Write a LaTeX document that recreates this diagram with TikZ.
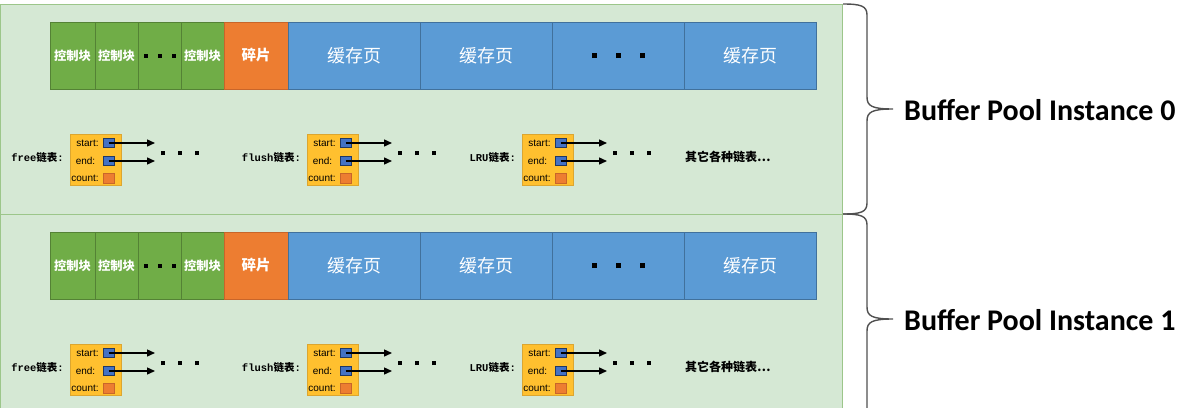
\documentclass[tikz,border=0pt]{standalone}
\usepackage{fontspec}
\setmainfont{Liberation Sans}
\newfontfamily\cjkfont{Noto Sans CJK SC}
\newfontfamily\monofont{Liberation Mono}
\newfontfamily\titlefont{Carlito}
\usepackage{tikz}
\usepackage{xcolor}
\usetikzlibrary{arrows.meta,positioning}
\definecolor{Pool_Back}{HTML}{D5E8D4}
\definecolor{Pool_Edge}{HTML}{9CC68A}
\definecolor{Ctrl_Green}{HTML}{70AD47}
\definecolor{Ctrl_Edge}{HTML}{548235}
\definecolor{Frag_Orange}{HTML}{ED7D31}
\definecolor{Frag_Edge}{HTML}{C8652A}
\definecolor{Page_Blue}{HTML}{5B9BD5}
\definecolor{Page_Edge}{HTML}{41719C}
\definecolor{Node_Gold}{HTML}{FFC02F}
\definecolor{Node_Edge}{HTML}{DCA630}
\definecolor{Ptr_Blue}{HTML}{4472C4}
\definecolor{Ptr_Edge}{HTML}{203864}
\definecolor{Brace_Gray}{HTML}{505050}
\newcommand{\tridots}[2]{\rule{#1}{#1}\hspace{#2}\rule{#1}{#1}\hspace{#2}\rule{#1}{#1}}

\begin{document}
\begin{tikzpicture}[x=1pt, y=-1pt,
    pool/.style={draw=Pool_Edge, fill=Pool_Back, line width=1pt, outer sep=0pt, minimum width=842pt, minimum height=210pt, anchor=north west},
    cell/.style={draw, line width=0.8pt, outer sep=0pt, inner sep=0pt, minimum height=67pt, text=white},
    ctrl/.style={cell, fill=Ctrl_Green, draw=Ctrl_Edge, minimum width=43pt, font=\cjkfont\bfseries\fontsize{12.3}{14}\selectfont},
    frag/.style={cell, fill=Frag_Orange, draw=Frag_Edge, minimum width=64pt, font=\cjkfont\bfseries\fontsize{14.5}{16}\selectfont},
    page/.style={cell, fill=Page_Blue, draw=Page_Edge, minimum width=132pt, font=\cjkfont\fontsize{18}{20}\selectfont},
    listbox/.style={draw=Node_Edge, fill=Node_Gold, line width=0.8pt, minimum width=51pt, minimum height=51pt, anchor=north west, inner sep=0pt},
    rowtxt/.style={inner sep=0pt, font=\fontsize{10}{12}\selectfont},
    ptr/.style={draw=Ptr_Edge, fill=Ptr_Blue, line width=0.6pt, minimum width=11pt, minimum height=9pt, inner sep=0pt},
    cnt/.style={draw=Frag_Edge, fill=Frag_Orange, line width=0.6pt, minimum width=11pt, minimum height=10pt, inner sep=0pt},
    ptrarrow/.style={line width=1.4pt, -{Triangle[length=8pt,width=7pt]}},
    listlbl/.style={anchor=east, inner sep=0pt, font=\bfseries\fontsize{10.5}{12}\selectfont},
    brace/.style={draw=Brace_Gray, line width=1.4pt}]

    \useasboundingbox (0,0) rectangle (1186,407);

    \foreach \i in {0,1} {
        \pgfmathsetmacro{\oy}{4+210*\i}

        % Instance background
        \node[pool] (pool\i) at (0.5,\oy) {};

        % Control blocks, fragment and cache pages
        \node[ctrl, anchor=north west, minimum width=45pt] (cb\i a) at (50,\oy+18) {控制块};
        \node[ctrl, right=0pt of cb\i a] (cb\i b) {控制块};
        \node[ctrl, right=0pt of cb\i b, text=black] (cb\i c) {\tridots{4pt}{10pt}};
        \node[ctrl, right=0pt of cb\i c] (cb\i d) {控制块};
        \node[frag, right=0pt of cb\i d] (frag\i) {碎片};
        \node[page, right=0pt of frag\i] (pg\i a) {缓存页};
        \node[page, right=0pt of pg\i a] (pg\i b) {缓存页};
        \node[page, right=0pt of pg\i b, text=black] (pg\i c) {\tridots{5pt}{19pt}};
        \node[page, right=0pt of pg\i c] (pg\i d) {缓存页};

        % Free / flush / LRU lists
        \foreach \j/\bx/\lbl in {1/70/free, 2/307/flush, 3/522/LRU} {
            \node[listlbl] (ll\i\j) at (\bx-6,\oy+154) {{\monofont\bfseries\lbl}{\cjkfont\bfseries 链表}{\monofont\bfseries :}};
            \node[listbox] (lst\i\j) at (\bx,\oy+130) {};
            \node[rowtxt] (rs\i\j) at (\bx+17.5,\oy+139) {start:};
            \node[rowtxt] (re\i\j) at (\bx+15.5,\oy+157) {end:};
            \node[rowtxt] (rc\i\j) at (\bx+15,\oy+174) {count:};
            \node[ptr] (ps\i\j) at (\bx+38.5,\oy+139) {};
            \node[ptr] (pe\i\j) at (\bx+38.5,\oy+157) {};
            \node[cnt] (pc\i\j) at (\bx+38.5,\oy+174) {};
            \coordinate (as\i\j) at (\bx+85,\oy+139);
            \coordinate (ae\i\j) at (\bx+85,\oy+157);
            \draw[ptrarrow] (ps\i\j.center) -- (as\i\j);
            \draw[ptrarrow] (pe\i\j.center) -- (ae\i\j);
            \node[inner sep=0pt] (ld\i\j) at (\bx+110,\oy+149) {\tridots{4pt}{13pt}};
        }
        \node[anchor=west, inner sep=0pt, font=\cjkfont\bfseries\fontsize{12}{14}\selectfont] (lo\i) at (685,\oy+153) {其它各种链表⋯};

        % Brace and instance name
        \draw[brace] (843,\oy) .. controls (861,\oy) and (867,\oy+2) .. (867,\oy+11)
            -- (867,\oy+93) .. controls (867,\oy+102) and (872,\oy+105) .. (893,\oy+105)
            .. controls (872,\oy+105) and (867,\oy+108) .. (867,\oy+117)
            -- (867,\oy+199) .. controls (867,\oy+208) and (861,\oy+210) .. (843,\oy+210);
        \node[anchor=west, inner sep=0pt, font=\titlefont\bfseries\fontsize{30}{34}\selectfont] (bp\i) at (904,\oy+106) {Buffer Pool Instance \i};
    }

\end{tikzpicture}
\end{document}
